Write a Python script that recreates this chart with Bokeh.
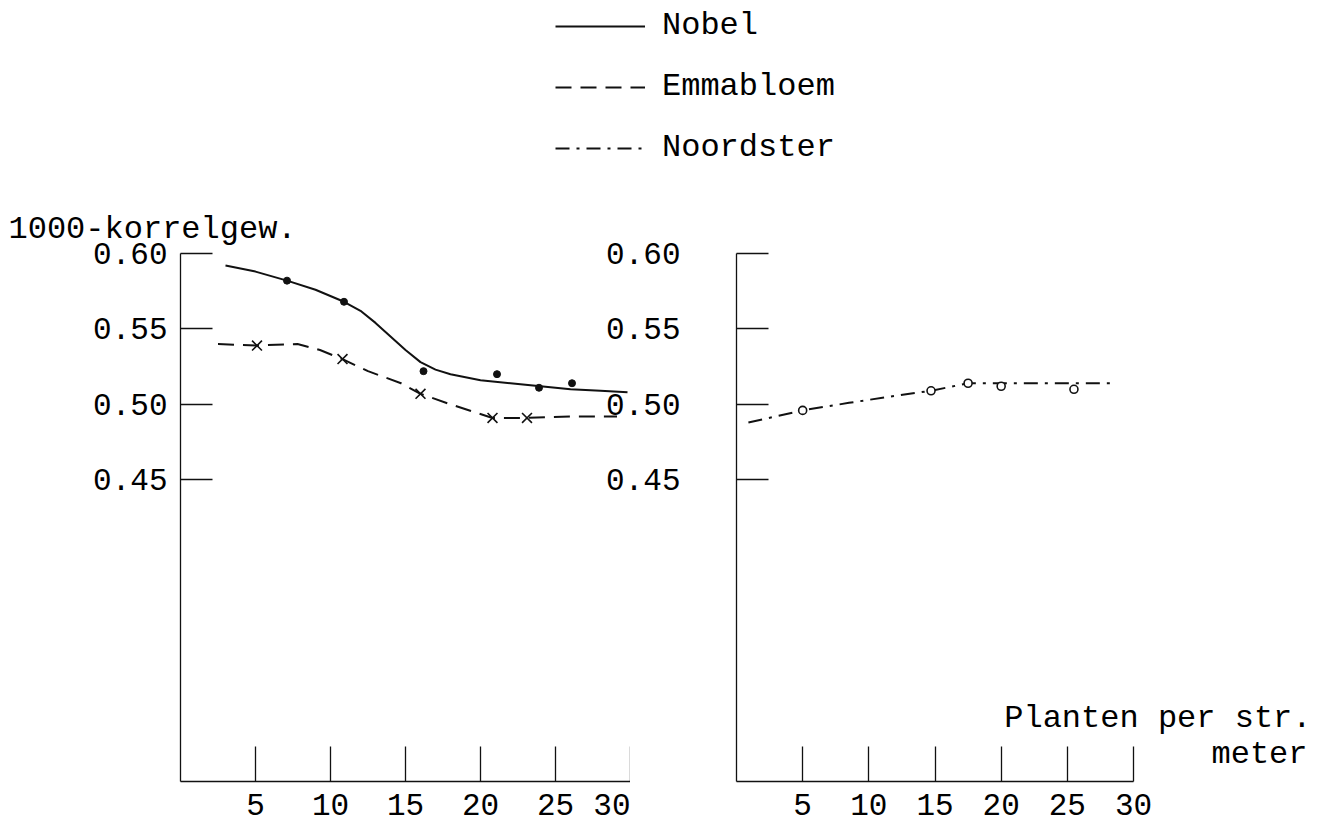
from bokeh.plotting import figure
from bokeh.models import Range1d, FixedTicker, Label, Legend, LegendItem
from bokeh.layouts import column, row
from bokeh.embed import file_html
from bokeh.resources import INLINE

FONT = "Liberation Mono"
INK = "#111111"

# ---- data ----
x_ticks = [5, 10, 15, 20, 25, 30]
y_ticks = [0.45, 0.50, 0.55, 0.60]
y_tick_labels = {0.45: "0.45", 0.50: "0.50", 0.55: "0.55", 0.60: "0.60"}

series_names = ["Nobel", "Emmabloem", "Noordster"]

nobel_curve_x = [3.0, 5.0, 7.1, 9.0, 10.9, 12.0, 13.0, 14.0, 15.0, 16.0, 17.0, 18.0, 20.0, 22.0, 24.0, 26.0, 28.0, 29.8]
nobel_curve_y = [0.592, 0.588, 0.582, 0.576, 0.568, 0.562, 0.554, 0.545, 0.536, 0.528, 0.523, 0.520, 0.516, 0.514, 0.512, 0.510, 0.509, 0.508]
nobel_pts_x = [7.1, 10.9, 16.2, 21.1, 23.9, 26.1]
nobel_pts_y = [0.582, 0.568, 0.522, 0.520, 0.511, 0.514]

emma_curve_x = [2.5, 5.1, 7.8, 9.3, 10.8, 12.5, 14.7, 16.0, 18.0, 20.8, 23.1, 26.0, 29.1]
emma_curve_y = [0.540, 0.539, 0.540, 0.536, 0.530, 0.522, 0.514, 0.507, 0.500, 0.491, 0.491, 0.492, 0.492]
emma_pts_x = [5.1, 10.8, 16.0, 20.8, 23.1]
emma_pts_y = [0.539, 0.530, 0.507, 0.491, 0.491]

noord_curve_x = [0.9, 5.0, 8.5, 11.5, 14.7, 17.5, 20.0, 23.0, 25.5, 28.7]
noord_curve_y = [0.488, 0.496, 0.501, 0.505, 0.509, 0.514, 0.514, 0.514, 0.514, 0.514]
noord_pts_x = [5.0, 14.7, 17.5, 20.0, 25.5]
noord_pts_y = [0.496, 0.509, 0.514, 0.512, 0.510]

y_title = "1000-korrelgew."
x_title_1 = "Planten per str."
x_title_2 = "meter"

STYLE = {
    "Nobel": dict(line_dash="solid"),
    "Emmabloem": dict(line_dash="16 9"),
    "Noordster": dict(line_dash="14 7 3 7"),
}

LEG_H = 190
PANEL_H = 829 - LEG_H
TOP = 63
BOTTOM = 48
FRAME_H = PANEL_H - TOP - BOTTOM
PX_R = 397 / 30.0  # right panel pixels per unit


def style_panel(p, label_standoff):
    p.grid.visible = False
    p.outline_line_color = None
    p.background_fill_alpha = 0
    p.border_fill_alpha = 0
    for ax in (p.xaxis[0], p.yaxis[0]):
        ax.axis_line_color = INK
        ax.axis_line_width = 1.3
        ax.major_tick_line_color = INK
        ax.major_tick_line_width = 1.3
        ax.minor_tick_line_color = None
        ax.major_tick_out = 0
        ax.major_label_text_font = FONT
        ax.major_label_text_font_size = "31px"
        ax.major_label_text_color = "black"
    p.xaxis.ticker = FixedTicker(ticks=x_ticks)
    p.xaxis.bounds = (0, 30)
    p.xaxis.major_tick_in = 35
    p.xaxis.major_label_standoff = 12
    p.yaxis.ticker = FixedTicker(ticks=y_ticks)
    p.yaxis.major_label_overrides = y_tick_labels
    p.yaxis.major_tick_in = 32
    p.yaxis.major_label_standoff = label_standoff


# ---- left panel ----
L_W = 630
left = figure(width=L_W, height=PANEL_H, x_range=Range1d(0, 30), y_range=Range1d(0.25, 0.60),
              output_backend="svg", toolbar_location=None,
              min_border_left=180, min_border_right=0, min_border_top=TOP, min_border_bottom=BOTTOM)
style_panel(left, 13)
left.line(nobel_curve_x, nobel_curve_y, line_color=INK, line_width=2, **STYLE["Nobel"])
left.scatter(nobel_pts_x, nobel_pts_y, marker="circle", size=7, fill_color=INK, line_color=INK)
left.line(emma_curve_x, emma_curve_y, line_color=INK, line_width=2, **STYLE["Emmabloem"])
left.scatter(emma_pts_x, emma_pts_y, marker="x", size=14, line_color=INK, line_width=1.6)
left.title.text = y_title
left.title.align = "left"
left.title.offset = -172
left.title.standoff = 12
left.title.text_font = FONT
left.title.text_font_size = "32px"
left.title.text_font_style = "normal"
left.title.text_color = "black"

# ---- right panel ----
R_START = 600
R_W = 1339 - R_START
R_FRAME_W = 1339 - 736
right = figure(width=R_W, height=PANEL_H, x_range=Range1d(0, R_FRAME_W / PX_R), y_range=Range1d(0.25, 0.60),
               output_backend="svg", toolbar_location=None,
               min_border_left=736 - R_START, min_border_right=0,
               min_border_top=TOP, min_border_bottom=BOTTOM)
right.margin = (0, 0, 0, -(L_W - R_START))
style_panel(right, 56)
right.line(noord_curve_x, noord_curve_y, line_color=INK, line_width=2, **STYLE["Noordster"])
right.scatter(noord_pts_x, noord_pts_y, marker="circle", size=8, fill_color="white", line_color=INK, line_width=1.6)
right.add_layout(Label(x=575, y=63, x_units="screen", y_units="screen", text=x_title_1,
                       text_font=FONT, text_font_size="32px", text_color="black",
                       text_align="right", text_baseline="middle"))
right.add_layout(Label(x=571, y=27, x_units="screen", y_units="screen", text=x_title_2,
                       text_font=FONT, text_font_size="32px", text_color="black",
                       text_align="right", text_baseline="middle"))

# ---- legend strip ----
leg = figure(width=1339, height=LEG_H, x_range=Range1d(0, 1), y_range=Range1d(0, 1),
             output_backend="svg", toolbar_location=None, x_axis_location=None, y_axis_location=None,
             min_border=0)
leg.grid.visible = False
leg.outline_line_color = None
r_n = leg.line(nobel_curve_x, nobel_curve_y, line_color=INK, line_width=2, visible=False, **STYLE["Nobel"])
r_e = leg.line(emma_curve_x, emma_curve_y, line_color=INK, line_width=2, visible=False, **STYLE["Emmabloem"])
r_o = leg.line(noord_curve_x, noord_curve_y, line_color=INK, line_width=2, visible=False, **STYLE["Noordster"])
legend = Legend(items=[LegendItem(label=series_names[0], renderers=[r_n]),
                       LegendItem(label=series_names[1], renderers=[r_e]),
                       LegendItem(label=series_names[2], renderers=[r_o])],
                location=(555, 24), glyph_width=90, glyph_height=30, label_height=30,
                label_standoff=17, spacing=24, padding=0, margin=0,
                border_line_color=None, background_fill_alpha=0,
                label_text_font=FONT, label_text_font_size="32px", label_text_color="black",
                click_policy="none")
leg.add_layout(legend)

layout = column(leg, row(left, right))
open("out.html", "w").write(file_html(layout, INLINE))
